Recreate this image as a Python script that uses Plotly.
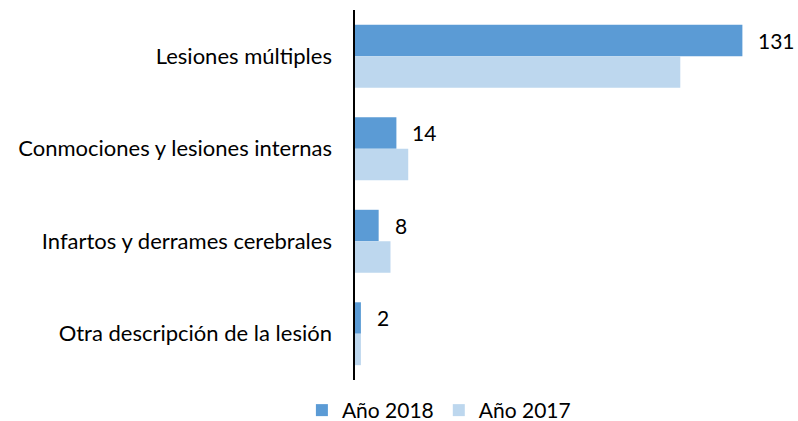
import plotly.graph_objects as go

categorias = [
    "Lesiones múltiples",
    "Conmociones y lesiones internas",
    "Infartos y derrames cerebrales",
    "Otra descripción de la lesión",
]
valores_2018 = [131, 14, 8, 2]
valores_2017 = [110, 18, 12, 2]

AZUL_2018 = "#5B9BD5"
AZUL_2017 = "#BDD7EE"
FUENTE = "Lato"

fig = go.Figure()
fig.add_trace(go.Bar(
    y=categorias, x=valores_2018, name="Año 2018", orientation="h",
    marker=dict(color=AZUL_2018, line=dict(width=0)),
))
fig.add_trace(go.Bar(
    y=categorias, x=valores_2017, name="Año 2017", orientation="h",
    marker=dict(color=AZUL_2017, line=dict(width=0)),
))

# value labels next to the 2018 bars
for cat, val in zip(categorias, valores_2018):
    fig.add_annotation(
        x=val, y=cat, text=str(val), showarrow=False,
        xanchor="left", yanchor="middle", xshift=14, yshift=16,
        font=dict(family=FUENTE, size=21, color="#000000"),
    )

fig.update_layout(
    width=798, height=421,
    margin=dict(l=355, r=29, t=10, b=38),
    paper_bgcolor="white", plot_bgcolor="white",
    barmode="group", bargap=0.32, bargroupgap=0,
    font=dict(family=FUENTE, size=22, color="#000000"),
    showlegend=True,
    legend=dict(
        orientation="h", xref="container", yref="container",
        x=0.55, y=0.025, xanchor="center", yanchor="middle",
        font=dict(family=FUENTE, size=21, color="#000000"),
        itemwidth=30, traceorder="normal",
    ),
    xaxis=dict(range=[0, 140], visible=False, fixedrange=True),
    yaxis=dict(
        autorange="reversed", showline=True, linecolor="#000000", linewidth=1.5,
        ticks="", showgrid=False, zeroline=False, ticksuffix="   ",
        tickfont=dict(family=FUENTE, size=22, color="#000000"),
    ),
)

fig.write_html("out.html")
